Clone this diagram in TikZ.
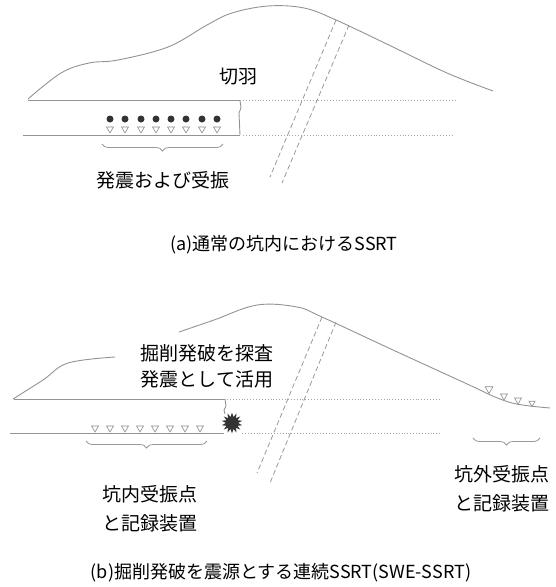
\documentclass[tikz,border=0pt]{standalone}
\usepackage{fontspec}
\setmainfont{Noto Sans CJK JP}
\usetikzlibrary{shapes.geometric,decorations.pathreplacing}

\begin{document}
\begin{tikzpicture}[x=1pt,y=-1pt,
  ground/.style={draw=gray!85,line width=0.9pt},
  hidden/.style={draw=gray!70,line width=0.9pt,dotted},
  fault/.style={draw=gray!80,line width=0.8pt,dash pattern=on 5pt off 3pt},
  shot/.style={circle,fill=black!80,minimum size=7pt,inner sep=0pt},
  rcv/.style={regular polygon,regular polygon sides=3,shape border rotate=180,
    draw=gray!90,line width=0.6pt,minimum size=8pt,inner sep=0pt},
  blast/.style={star,star points=14,star point ratio=1.7,fill=black!80,
    minimum size=21pt,inner sep=0pt},
  brc/.style={draw=gray!80,line width=0.8pt,decorate,
    decoration={brace,mirror,amplitude=7pt}},
  lbl/.style={font=\fontsize{19}{26}\selectfont,align=center,inner sep=0pt},
  figcap/.style={font=\fontsize{18}{22}\selectfont,inner sep=0pt}]
\useasboundingbox (0,0) rectangle (556,587);

% (a) ordinary in-tunnel survey
\draw[ground] plot[smooth,tension=0.6] coordinates {(28,99) (61,73) (89,63) (118,60) (168,47) (207,25) (232,13) (268,6) (304,8) (336,20) (393,47) (447,73) (493,91)};
\draw[ground] (28,100) -- (240,100);
\draw[ground] (23,135) -- (240,135);
\draw[ground] (240,100) -- (241,108) -- (239,113) -- (240,135);
\draw[hidden] (243,100) -- (456,100);
\draw[hidden] (243,135) -- (452,135);
\draw[fault] (336,20) -- (270,177);
\draw[fault] (349,25) -- (282,183);
\node[shot] (s1) at (110,119) {};
\node[shot] (s2) at (125,119) {};
\node[shot] (s3) at (141,119) {};
\node[shot] (s4) at (156,119) {};
\node[shot] (s5) at (171,119) {};
\node[shot] (s6) at (186,119) {};
\node[shot] (s7) at (202,119) {};
\node[shot] (s8) at (217,119) {};
\node[rcv] (r1) at (110,129) {};
\node[rcv] (r2) at (125,129) {};
\node[rcv] (r3) at (141,129) {};
\node[rcv] (r4) at (156,129) {};
\node[rcv] (r5) at (171,129) {};
\node[rcv] (r6) at (186,129) {};
\node[rcv] (r7) at (202,129) {};
\node[rcv] (r8) at (217,129) {};
\draw[brc] (102,144) -- (223,144);
\node[lbl] (face) at (238,77) {切羽};
\node[lbl] (shotrcv) at (163,180) {発震および受振};
\node[figcap] (capa) at (284,245) {(a)通常の坑内におけるSSRT};

% (b) blasting used as the source
\draw[ground] plot[smooth,tension=0.6] coordinates {(13,399) (43,380) (68,363) (115,357)};
\draw[ground] plot[smooth,tension=0.6] coordinates {(179,332) (214,320) (257,305) (297,307) (322,317) (393,350) (465,383) (480,390) (495,397) (512,403) (530,406) (550,408)};
\draw[ground] (14,399) -- (225,399);
\draw[ground] (10,433) -- (224,433);
\draw[ground] (225,399) -- (226,406) -- (224,410) -- (225,414);
\draw[hidden] (227,399) -- (441,399);
\draw[hidden] (242,433) -- (440,433);
\draw[fault] (322,317) -- (257,473);
\draw[fault] (336,322) -- (270,483);
\node[blast] (blast) at (232,423) {};
\node[rcv] (t1) at (95,428) {};
\node[rcv] (t2) at (110,428) {};
\node[rcv] (t3) at (125,428) {};
\node[rcv] (t4) at (140,428) {};
\node[rcv] (t5) at (155,428) {};
\node[rcv] (t6) at (170,428) {};
\node[rcv] (t7) at (185,428) {};
\node[rcv] (t8) at (200,428) {};
\node[rcv,minimum size=9pt] (o1) at (489,389) {};
\node[rcv] (o2) at (504,396) {};
\node[rcv] (o3) at (518,400) {};
\node[rcv,minimum size=7pt] (o4) at (532,403) {};
\draw[brc] (86,441) -- (207,441);
\draw[brc] (473,438) -- (540,438);
\node[lbl] (blastlbl) at (207,366) {掘削発破を探査\\発震として活用};
\node[lbl,font=\fontsize{19}{29}\selectfont] (inner) at (150,509) {坑内受振点\\と記録装置};
\node[lbl,font=\fontsize{19}{29}\selectfont] (outer) at (502,489) {坑外受振点\\と記録装置};
\node[figcap] (capb) at (281,573) {(b)掘削発破を震源とする連続SSRT(SWE-SSRT)};
\end{tikzpicture}
\end{document}
